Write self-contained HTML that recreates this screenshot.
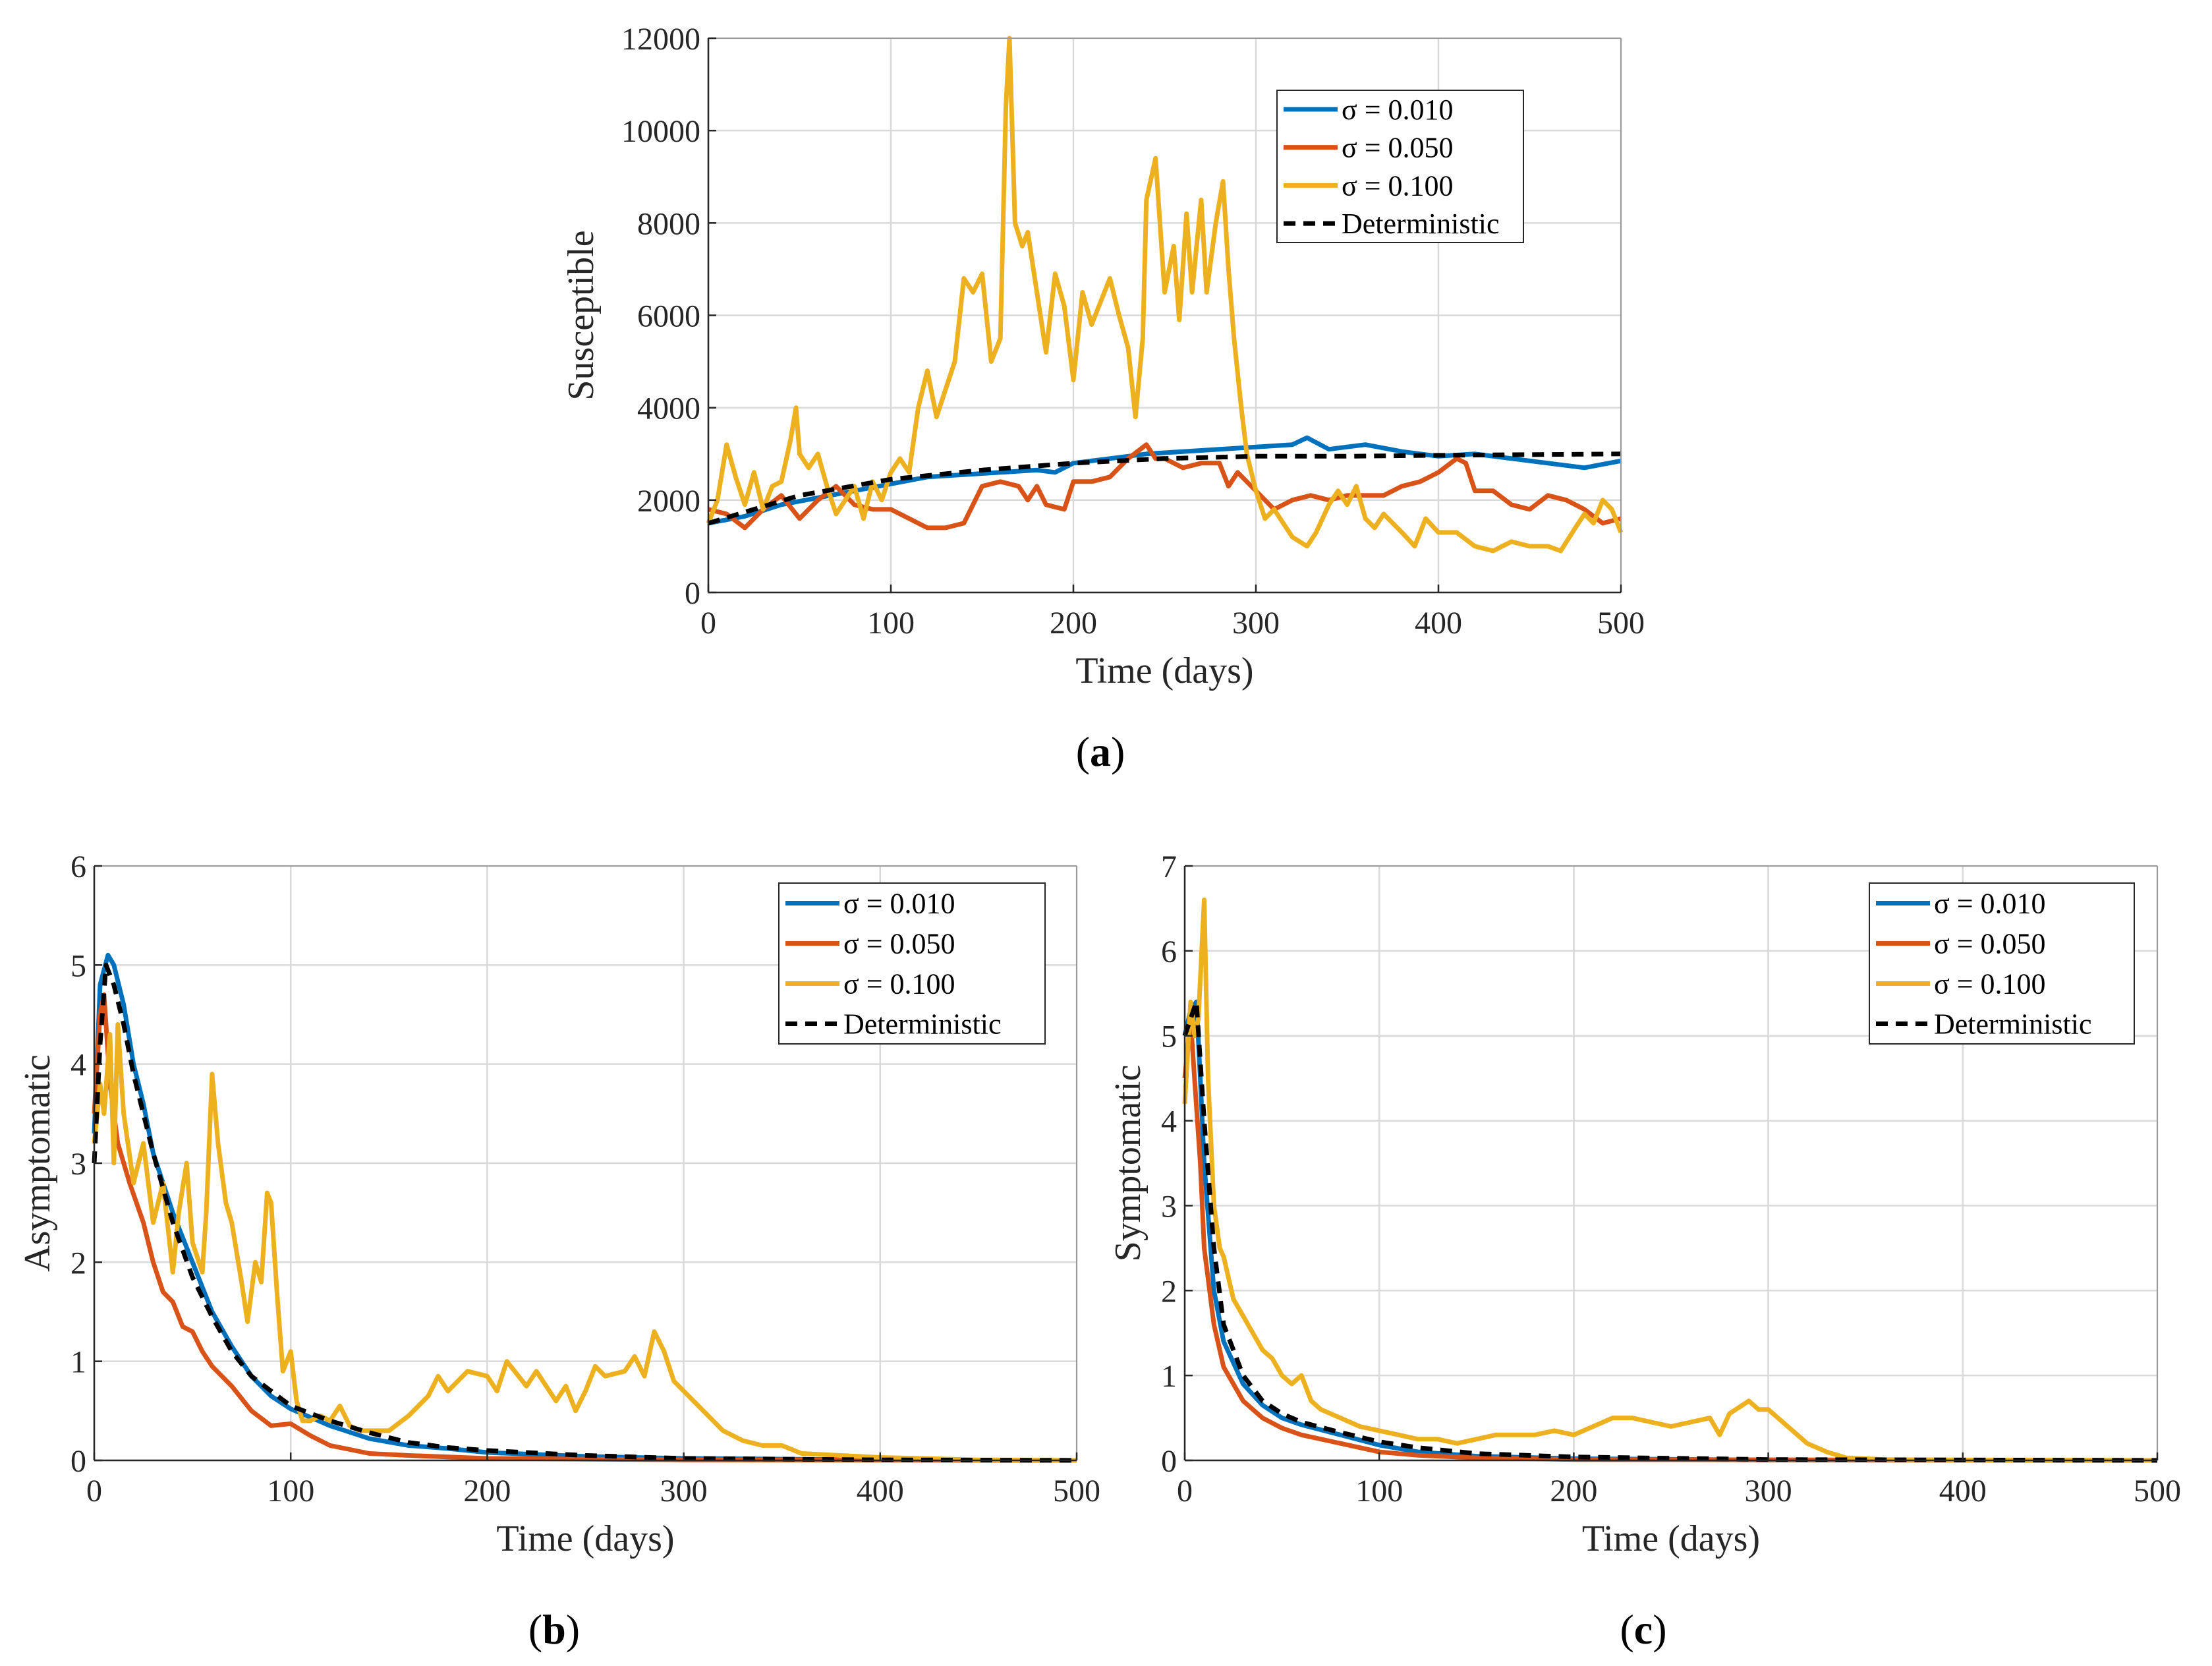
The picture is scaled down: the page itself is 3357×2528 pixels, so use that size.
<!DOCTYPE html>
<html><head><meta charset="utf-8"><style>
html,body{margin:0;padding:0;background:#fff;}
svg{display:block;font-family:"Liberation Serif",serif;}
</style></head><body>
<svg id="fig" width="3357" height="2528" viewBox="0 0 3357 2528" xmlns="http://www.w3.org/2000/svg"></svg>
<script>
const NS="http://www.w3.org/2000/svg";
const fig=document.getElementById('fig');
const COLORS=['#0072BD','#D95319','#EDB120','#000000'];
const legendLabels=['σ = 0.010','σ = 0.050','σ = 0.100','Deterministic'];
const xTicks=[0,100,200,300,400,500];

// Panel (a) Susceptible
const aBlueT=[0,20,40,60,80,100,120,140,160,180,190,200,220,240,260,280,300,320,328,340,360,380,400,420,440,460,480,500];
const aBlueV=[1500,1650,1900,2050,2200,2350,2500,2550,2600,2650,2600,2800,2900,3000,3050,3100,3150,3200,3350,3100,3200,3050,2950,3000,2900,2800,2700,2850];
const aRedT=[0,10,20,30,40,50,60,70,80,90,100,110,120,130,140,150,160,170,175,180,185,195,200,210,220,230,240,245,250,260,270,280,285,290,300,310,320,330,340,350,360,370,380,390,400,410,415,420,430,440,450,460,470,480,490,500];
const aRedV=[1800,1700,1400,1800,2100,1600,2000,2300,1900,1800,1800,1600,1400,1400,1500,2300,2400,2300,2000,2300,1900,1800,2400,2400,2500,2900,3200,2900,2900,2700,2800,2800,2300,2600,2200,1800,2000,2100,2000,2100,2100,2100,2300,2400,2600,2900,2800,2200,2200,1900,1800,2100,2000,1800,1500,1600];
const aYelT=[0,5,10,15,20,25,30,35,40,45,48,50,55,60,65,70,75,80,85,90,95,100,105,110,115,120,125,130,135,140,145,150,155,160,163,165,168,172,175,180,185,190,195,200,205,210,215,220,225,230,234,238,240,245,250,255,258,262,265,270,273,278,282,285,288,292,295,300,305,310,315,320,328,333,340,345,350,355,360,365,370,380,387,393,400,410,420,430,440,450,460,467,475,480,485,490,495,500];
const aYelV=[1500,2000,3200,2500,1900,2600,1800,2300,2400,3300,4000,3000,2700,3000,2300,1700,2000,2300,1600,2400,2000,2600,2900,2600,4000,4800,3800,4400,5000,6800,6500,6900,5000,5500,10500,12000,8000,7500,7800,6500,5200,6900,6200,4600,6500,5800,6300,6800,6000,5300,3800,5500,8500,9400,6500,7500,5900,8200,6500,8500,6500,8000,8900,7000,5500,4000,3000,2200,1600,1800,1500,1200,1000,1300,1900,2200,1900,2300,1600,1400,1700,1300,1000,1600,1300,1300,1000,900,1100,1000,1000,900,1400,1700,1500,2000,1800,1300];
const aDetT=[0,50,100,150,200,250,300,350,400,500];
const aDetV=[1500,2100,2450,2650,2800,2900,2950,2950,2970,3000];

// Panel (b) Asymptomatic
const bBlueT=[0,3,7,10,15,20,25,30,40,50,60,70,80,90,100,120,140,160,180,200,250,300,400,500];
const bBlueV=[3.3,4.8,5.1,5.0,4.6,4.0,3.6,3.1,2.5,2.0,1.5,1.15,0.85,0.65,0.52,0.35,0.22,0.15,0.12,0.08,0.04,0.02,0.005,0];
const bRedT=[0,3,5,8,12,18,25,30,35,40,45,50,55,60,70,80,90,100,110,120,140,160,200,300,500];
const bRedV=[3.5,4.5,4.7,3.8,3.2,2.8,2.4,2.0,1.7,1.6,1.35,1.3,1.1,0.95,0.75,0.5,0.35,0.37,0.25,0.15,0.07,0.05,0.02,0.005,0];
const bYelT=[0,3,5,8,10,12,15,20,25,30,35,40,43,47,50,55,57,60,63,67,70,75,78,82,85,88,90,93,96,100,103,106,110,115,120,125,130,135,145,150,160,170,175,180,190,200,205,210,220,225,235,240,245,250,255,260,270,275,280,285,290,295,300,305,310,320,330,340,350,360,380,400,450,500];
const bYelV=[3.2,3.8,3.5,4.3,3.0,4.4,3.5,2.8,3.2,2.4,2.8,1.9,2.5,3.0,2.2,1.9,2.5,3.9,3.2,2.6,2.4,1.8,1.4,2.0,1.8,2.7,2.6,1.7,0.9,1.1,0.6,0.4,0.4,0.45,0.4,0.55,0.35,0.3,0.3,0.3,0.45,0.65,0.85,0.7,0.9,0.85,0.7,1.0,0.75,0.9,0.6,0.75,0.5,0.7,0.95,0.85,0.9,1.05,0.85,1.3,1.1,0.8,0.7,0.6,0.5,0.3,0.2,0.15,0.15,0.07,0.05,0.03,0.005,0];
const bDetT=[0,3,6,10,15,20,30,40,50,60,70,80,90,100,120,140,160,180,200,250,300,400,500];
const bDetV=[3.0,4.2,5.0,4.8,4.4,3.9,3.1,2.4,1.85,1.45,1.1,0.85,0.7,0.55,0.4,0.28,0.18,0.13,0.1,0.05,0.02,0.005,0];

// Panel (c) Symptomatic
const cBlueT=[0,3,6,8,10,15,20,30,40,50,60,80,100,120,150,200,300,500];
const cBlueV=[5.0,5.3,5.4,4.5,3.5,2.0,1.4,0.9,0.65,0.5,0.42,0.3,0.18,0.1,0.05,0.02,0.005,0];
const cRedT=[0,3,5,8,10,15,20,30,40,50,60,80,100,120,150,200,500];
const cRedV=[4.5,5.2,4.5,3.5,2.5,1.6,1.1,0.7,0.5,0.38,0.3,0.2,0.1,0.06,0.03,0.01,0];
const cYelT=[0,3,5,7,10,12,15,18,20,25,30,35,40,45,50,55,60,65,70,80,90,100,110,120,130,140,150,160,170,180,190,200,210,220,230,240,250,260,270,275,280,290,295,300,310,320,330,340,360,400,500];
const cYelV=[4.2,5.4,5.0,5.2,6.6,4.5,3.0,2.5,2.4,1.9,1.7,1.5,1.3,1.2,1.0,0.9,1.0,0.7,0.6,0.5,0.4,0.35,0.3,0.25,0.25,0.2,0.25,0.3,0.3,0.3,0.35,0.3,0.4,0.5,0.5,0.45,0.4,0.45,0.5,0.3,0.55,0.7,0.6,0.6,0.4,0.2,0.1,0.03,0.01,0.005,0];
const cDetT=[0,3,6,10,15,20,30,40,50,60,80,100,120,150,200,300,500];
const cDetV=[5.0,5.2,5.4,4.0,2.5,1.6,1.0,0.7,0.55,0.45,0.33,0.22,0.15,0.08,0.04,0.01,0];

function el(tag,attrs,parent){const e=document.createElementNS(NS,tag);for(const k in attrs)e.setAttribute(k,attrs[k]);(parent||fig).appendChild(e);return e;}

function panel(cfg){
  const g=el('g',{});
  
  
  const {x0,x1,y0,y1,ymax,ystep}=cfg;
  const sx=v=>x0+(v/500)*(x1-x0);
  const sy=v=>y1-(v/ymax)*(y1-y0);
  el('rect',{x:x0,y:y0,width:x1-x0,height:y1-y0,fill:'#fff'},g);
  for(const t of xTicks){
    const l=el('line',{x1:sx(t),x2:sx(t),y1:y0,y2:y1,stroke:'#d9d9d9','stroke-width':2.5},g);
    
    
  }
  const yt=[];for(let v=0;v<=ymax+1e-9;v+=ystep)yt.push(v);
  for(const t of yt){
    const l=el('line',{x1:x0,x2:x1,y1:sy(t),y2:sy(t),stroke:'#d9d9d9','stroke-width':2.5},g);
    
    
  }
  const series=cfg.series;
  series.forEach((s,i)=>{
    const pts=s.t.map((t,j)=>sx(t).toFixed(1)+','+sy(s.v[j]).toFixed(1)).join(' ');
    const p=el('polyline',{points:pts,fill:'none',stroke:COLORS[i],'stroke-width':7,'stroke-linejoin':'round','stroke-dasharray':i===3?'18,12':'none'},g);
    
    
  });
  el('line',{x1:x0,x2:x1,y1:y0,y2:y0,stroke:'#9a9a9a','stroke-width':2},g);
  el('line',{x1:x1,x2:x1,y1:y0,y2:y1,stroke:'#9a9a9a','stroke-width':2},g);
  const xa=el('line',{x1:x0,x2:x1,y1:y1,y2:y1,stroke:'#262626','stroke-width':2.5},g);
  
  
  const ya=el('line',{x1:x0,x2:x0,y1:y0,y2:y1,stroke:'#262626','stroke-width':2.5},g);
  
  
  for(const t of xTicks){
    el('line',{x1:sx(t),x2:sx(t),y1:y1,y2:y1-12,stroke:'#262626','stroke-width':2.5},g);
    const tx=el('text',{x:sx(t),y:y1+62,'font-size':48,'text-anchor':'middle',fill:'#262626'},g);
    tx.textContent=t;
    
    
  }
  for(const t of yt){
    el('line',{x1:x0,x2:x0+12,y1:sy(t),y2:sy(t),stroke:'#262626','stroke-width':2.5},g);
    const tx=el('text',{x:x0-12,y:sy(t)+17,'font-size':48,'text-anchor':'end',fill:'#262626'},g);
    tx.textContent=t;
    
    
  }
  const xl=el('text',{x:(x0+x1)/2,y:y1+137,'font-size':56,'text-anchor':'middle',fill:'#262626'},g);
  xl.textContent='Time (days)';
  
  
  const yl=el('text',{x:0,y:0,'font-size':56,'text-anchor':'middle',fill:'#262626',transform:`translate(${cfg.ylx},${(y0+y1)/2}) rotate(-90)`},g);
  yl.textContent=cfg.ylabel;
  
  
  const L=cfg.legend;
  const lg=el('g',{},g);
  
  
  el('rect',{x:L.x,y:L.y,width:L.w,height:L.h,fill:'#fff',stroke:'#262626','stroke-width':2},lg);
  const rowH=L.h/4;
  legendLabels.forEach((lab,i)=>{
    const cy=L.y+rowH*(i+0.5);
    el('line',{x1:L.x+10,x2:L.x+92,y1:cy,y2:cy,stroke:COLORS[i],'stroke-width':7,'stroke-dasharray':i===3?'18,12':'none'},lg);
    const t=el('text',{x:L.x+98,y:cy+15,'font-size':44,fill:'#000'},lg);
    t.textContent=lab;
    
    
  });
  const cap=el('text',{x:cfg.capx,y:cfg.capy,'font-size':64,'text-anchor':'middle',fill:'#000'},g);
  cap.innerHTML='(<tspan font-weight="bold">'+cfg.cap+'</tspan>)';
  
  
}

panel({name:'panel-a-susceptible',x0:1075,x1:2460,y0:58,y1:899,ymax:12000,ystep:2000,ylabel:'Susceptible',ylx:900,
  legend:{x:1938,y:137,w:374,h:231},cap:'a',capx:1670,capy:1162,
  series:[{t:aBlueT,v:aBlueV},{t:aRedT,v:aRedV},{t:aYelT,v:aYelV},{t:aDetT,v:aDetV}]});
panel({name:'panel-b-asymptomatic',x0:143,x1:1634,y0:1314,y1:2216,ymax:6,ystep:1,ylabel:'Asymptomatic',ylx:75,
  legend:{x:1182,y:1340,w:404,h:244},cap:'b',capx:841,capy:2494,
  series:[{t:bBlueT,v:bBlueV},{t:bRedT,v:bRedV},{t:bYelT,v:bYelV},{t:bDetT,v:bDetV}]});
panel({name:'panel-c-symptomatic',x0:1798,x1:3274,y0:1314,y1:2216,ymax:7,ystep:1,ylabel:'Symptomatic',ylx:1730,
  legend:{x:2837,y:1340,w:402,h:244},cap:'c',capx:2494,capy:2494,
  series:[{t:cBlueT,v:cBlueV},{t:cRedT,v:cRedV},{t:cYelT,v:cYelV},{t:cDetT,v:cDetV}]});
</script>
</body></html>
